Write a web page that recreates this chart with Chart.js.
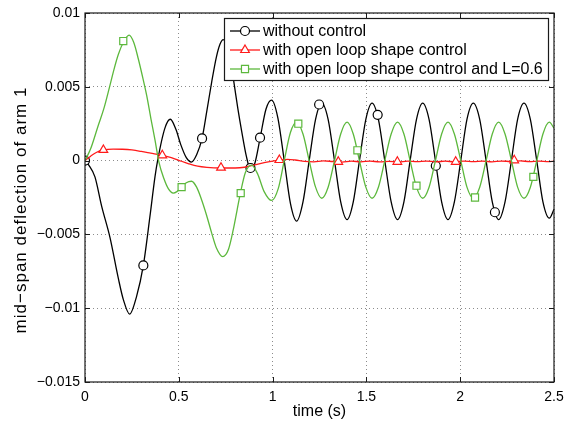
<!DOCTYPE html>
<html>
<head>
<meta charset="utf-8">
<script src="https://cdn.jsdelivr.net/npm/chart.js@4.4.1/dist/chart.umd.min.js"></script>
<style>
  html, body { margin: 0; padding: 0; background: #fff; }
  #c { display: block; }
</style>
</head>
<body>
<canvas id="c" width="565" height="425"></canvas>
<script>
// ---------- data (time s, deflection) ----------
const seriesNames = [
  'without control',
  'with open loop shape control',
  'with open loop shape control and L=0.6'
];

const noControl = [
  [0,0],[0.02,-0.0003],[0.053,-0.0011],[0.089,-0.0031],[0.133,-0.0052],[0.178,-0.0080],
  [0.204,-0.0094],[0.238,-0.0104],[0.275,-0.0092],[0.311,-0.0071],[0.346,-0.0038],
  [0.373,-0.0011],[0.387,0.0],[0.426,0.0022],[0.455,0.0028],[0.485,0.0021],[0.510,0.0011],
  [0.540,0.0002],[0.567,-0.0001],[0.595,0.0004],[0.624,0.0015],[0.650,0.0034],[0.675,0.0053],
  [0.700,0.0070],[0.720,0.0079],[0.737,0.0082],[0.755,0.0078],[0.775,0.0068],[0.795,0.0052],
  [0.815,0.0035],[0.835,0.0020],[0.860,0.0003],[0.882,-0.0006],[0.905,-0.0002],[0.933,0.0015],
  [0.965,0.0035],[0.995,0.0041],
  [1.028,0.0029],[1.062,0],[1.095,-0.0029],[1.128,-0.0041],
  [1.162,-0.0028],[1.195,0],[1.229,0.0028],[1.262,0.0039],
  [1.296,0.0028],[1.330,0],[1.363,-0.0028],[1.397,-0.0040],
  [1.430,-0.0028],[1.463,0],[1.497,0.0028],[1.530,0.0039],
  [1.564,0.0028],[1.598,0],[1.632,-0.0028],[1.666,-0.0040],
  [1.700,-0.0028],[1.733,0],[1.767,0.0028],[1.800,0.0039],
  [1.834,0.0028],[1.868,0],[1.901,-0.0028],[1.935,-0.0040],
  [1.969,-0.0028],[2.003,0],[2.036,0.0028],[2.070,0.0039],
  [2.104,0.0028],[2.138,0],[2.171,-0.0028],[2.205,-0.0040],
  [2.239,-0.0028],[2.273,0],[2.306,0.0028],[2.340,0.0039],
  [2.374,0.0028],[2.408,0],[2.441,-0.0028],[2.475,-0.0039],[2.5,-0.0033]
];
const noControlMarkers = [
  [0,0],[0.311,-0.0071],[0.624,0.0015],[0.882,-0.0005],[0.933,0.00155],
  [1.248,0.0038],[1.56,0.0031],[1.87,-0.00035],[2.185,-0.0035]
];

const openLoop = [
  [0,0],[0.03,0.0003],[0.06,0.00055],[0.098,0.00072],[0.15,0.00078],[0.2,0.00077],
  [0.25,0.00072],[0.3,0.00062],[0.35,0.0005],[0.412,0.00035],[0.46,0.0002],[0.5,0.00002],
  [0.55,-0.0002],[0.6,-0.00038],[0.65,-0.00046],[0.725,-0.0005],[0.8,-0.0005],[0.85,-0.00045],
  [0.9,-0.0003],[0.95,-0.00016],[1.0,-0.00003],[1.036,0.00003],[1.08,0.00008],[1.12,0.00004],
  [1.17,-0.00005],[1.22,-0.00008],[1.27,-0.00002],[1.32,-0.00006],[1.37,-0.0001],[1.42,-0.00004],
  [1.47,-0.00008],[1.52,-0.00003],[1.57,-0.00009],[1.62,-0.00005],[1.67,-0.0001],[1.72,-0.00004],
  [1.77,-0.00007],[1.82,-0.00003],[1.87,-0.00008],[1.92,-0.00004],[1.97,-0.00008],[2.02,-0.00003],
  [2.07,-0.00007],[2.12,-0.00004],[2.17,-0.00008],[2.22,-0.00003],[2.27,-0.00006],[2.32,-0.00002],
  [2.37,-0.00007],[2.42,-0.00004],[2.47,-0.00007],[2.5,-0.00005]
];
const openLoopMarkers = [
  [0.098,0.00072],[0.412,0.00036],[0.725,-0.00048],[1.036,0.00004],
  [1.35,-0.00008],[1.665,-0.00008],[1.976,-0.00008],[2.288,0.00002]
];

const openLoopL06 = [
  [0,0],[0.03,0.0008],[0.071,0.0024],[0.10,0.0035],[0.133,0.0051],[0.155,0.0062],[0.178,0.0072],
  [0.204,0.0080],[0.235,0.0085],[0.26,0.0080],[0.284,0.0069],[0.31,0.0055],[0.329,0.0044],
  [0.352,0.0028],[0.373,0.0014],[0.394,-0.0001],[0.42,-0.0012],[0.444,-0.0019],[0.47,-0.0022],
  [0.49,-0.0021],[0.515,-0.0018],[0.54,-0.0015],[0.568,-0.0014],[0.595,-0.0018],[0.62,-0.0026],
  [0.648,-0.0037],[0.675,-0.0049],[0.70,-0.0059],[0.734,-0.0065],[0.765,-0.0060],[0.79,-0.0047],
  [0.81,-0.0034],[0.83,-0.0021],[0.855,-0.0008],[0.888,-0.0003],[0.92,-0.0009],[0.955,-0.0021],
  [0.995,-0.0027],[1.03,-0.0019],[1.062,0.0],[1.095,0.0019],[1.128,0.0026],
  [1.162,0.0018],[1.195,0],[1.229,-0.0018],[1.262,-0.00255],
  [1.296,-0.0018],[1.330,0],[1.363,0.0018],[1.397,0.0026],
  [1.430,0.0018],[1.463,0],[1.497,-0.0018],[1.530,-0.00255],
  [1.564,-0.0018],[1.598,0],[1.632,0.0018],[1.666,0.0026],
  [1.700,0.0018],[1.733,0],[1.767,-0.0018],[1.800,-0.00255],
  [1.834,-0.0018],[1.868,0],[1.901,0.0018],[1.935,0.0026],
  [1.969,0.0018],[2.003,0],[2.036,-0.0018],[2.070,-0.00255],
  [2.104,-0.0018],[2.138,0],[2.171,0.0018],[2.205,0.0026],
  [2.239,0.0018],[2.273,0],[2.306,-0.0018],[2.340,-0.00255],
  [2.374,-0.0018],[2.408,0],[2.441,0.0018],[2.475,0.0026],[2.5,0.0022]
];
const openLoopL06Markers = [
  [0.204,0.0081],[0.515,-0.0018],[0.83,-0.0022],[1.137,0.0025],
  [1.452,0.0007],[1.767,-0.0017],[2.079,-0.0025],[2.39,-0.0011]
];

const xTicks = [0, 0.5, 1, 1.5, 2, 2.5];
const xTickLabels = ['0', '0.5', '1', '1.5', '2', '2.5'];
const yTicks = [-0.015, -0.01, -0.005, 0, 0.005, 0.01];
const yTickLabels = ['\u22120.015', '\u22120.01', '\u22120.005', '0', '0.005', '0.01'];
const xTitle = 'time (s)';
const yTitle = 'mid\u2212span deflection of arm 1';

// ---------- styles ----------
const colors = ['#000000', '#ff1a1a', '#5cb83c'];
const markerStyles = ['circle', 'triangle', 'rect'];
const markerRadii = [4.5, 5, 5];
const FONT = '"Liberation Sans", Arial, Helvetica, sans-serif';

const toXY = arr => arr.map(p => ({ x: p[0], y: p[1] }));
const lineSets = [noControl, openLoop, openLoopL06];
const markSets = [noControlMarkers, openLoopMarkers, openLoopL06Markers];

const datasets = [];
lineSets.forEach((d, i) => {
  datasets.push({
    label: seriesNames[i],
    data: toXY(d),
    borderColor: colors[i],
    borderWidth: 1.3,
    pointRadius: 0,
    fill: false,
    cubicInterpolationMode: 'monotone',
    order: 10 - i * 2
  });
  datasets.push({
    label: seriesNames[i] + ' markers',
    data: toXY(markSets[i]),
    showLine: false,
    borderColor: colors[i],
    backgroundColor: '#ffffff',
    pointStyle: markerStyles[i],
    pointRadius: markerRadii[i],
    pointBorderWidth: 1.2,
    order: 9 - i * 2
  });
});

// ---------- plugin: box, inward ticks, legend, y title ----------
const frame = {
  id: 'frame',
  afterDraw(chart) {
    const { ctx, chartArea: a, scales: { x, y } } = chart;
    ctx.save();
    ctx.strokeStyle = '#1a1a1a';
    ctx.lineWidth = 1.2;
    ctx.strokeRect(a.left, a.top, a.right - a.left, a.bottom - a.top);
    ctx.lineWidth = 1;
    ctx.beginPath();
    xTicks.forEach(v => {
      const px = Math.round(x.getPixelForValue(v)) + 0.5;
      ctx.moveTo(px, a.bottom); ctx.lineTo(px, a.bottom - 5);
      ctx.moveTo(px, a.top); ctx.lineTo(px, a.top + 5);
    });
    yTicks.forEach(v => {
      const py = Math.round(y.getPixelForValue(v)) + 0.5;
      ctx.moveTo(a.left, py); ctx.lineTo(a.left + 5, py);
      ctx.moveTo(a.right, py); ctx.lineTo(a.right - 5, py);
    });
    ctx.stroke();

    // y axis title
    ctx.save();
    ctx.translate(21, 210);
    ctx.rotate(-Math.PI / 2);
    ctx.font = '17px ' + FONT;
    if ('letterSpacing' in ctx) ctx.letterSpacing = '1px';
    ctx.fillStyle = '#000';
    ctx.textAlign = 'center';
    ctx.textBaseline = 'middle';
    ctx.fillText(yTitle, 0, 0);
    ctx.restore();

    // legend
    const lx = 224, ly = 18, lw = 324, lh = 62;
    ctx.fillStyle = '#ffffff';
    ctx.fillRect(lx, ly, lw, lh);
    ctx.strokeStyle = '#1a1a1a';
    ctx.lineWidth = 1.2;
    ctx.strokeRect(lx + 0.5, ly + 0.5, lw, lh);
    ctx.font = '16px ' + FONT;
    ctx.textBaseline = 'middle';
    ctx.textAlign = 'left';
    seriesNames.forEach((name, i) => {
      const yy = ly + 13 + i * 19;
      ctx.strokeStyle = colors[i];
      ctx.lineWidth = 1.3;
      ctx.beginPath();
      ctx.moveTo(lx + 6, yy); ctx.lineTo(lx + 36, yy);
      ctx.stroke();
      ctx.fillStyle = '#ffffff';
      ctx.lineWidth = 1.2;
      Chart.helpers.drawPoint(ctx, { pointStyle: markerStyles[i], radius: markerRadii[i], borderWidth: 1.2, rotation: 0 }, lx + 21, yy);
      ctx.fillStyle = '#000';
      ctx.fillText(name, lx + 39, yy + 1);
    });
    ctx.restore();
  }
};

new Chart(document.getElementById('c'), {
  type: 'line',
  data: { datasets },
  options: {
    responsive: false,
    animation: false,
    layout: { padding: { top: 13, right: 11, left: 0, bottom: 0 } },
    plugins: { legend: { display: false }, tooltip: { enabled: false } },
    scales: {
      x: {
        type: 'linear', min: 0, max: 2.5,
        afterBuildTicks: s => { s.ticks = xTicks.map(v => ({ value: v })); },
        afterFit: s => { s.height = 43; s.paddingLeft = 0; s.paddingRight = 0; },
        ticks: {
          callback: (v, i) => xTickLabels[i],
          font: { family: FONT, size: 14 }, color: '#000', padding: 7, maxRotation: 0
        },
        grid: { color: 'rgba(0,0,0,0.45)', lineWidth: 1, drawTicks: false },
        border: { display: false, dash: [1, 3] },
        title: { display: true, text: xTitle, color: '#000', font: { family: FONT, size: 16 }, padding: { top: 0, bottom: 4 } }
      },
      y: {
        type: 'linear', min: -0.015, max: 0.01,
        afterBuildTicks: s => { s.ticks = yTicks.map(v => ({ value: v })); },
        afterFit: s => { s.width = 85; s.paddingTop = 0; s.paddingBottom = 0; },
        ticks: {
          callback: (v, i) => yTickLabels[i],
          font: { family: FONT, size: 14 }, color: '#000', padding: 5
        },
        grid: { color: 'rgba(0,0,0,0.45)', lineWidth: 1, drawTicks: false },
        border: { display: false, dash: [1, 3] },
        title: { display: false }
      }
    }
  },
  plugins: [frame]
});
</script>
</body>
</html>
